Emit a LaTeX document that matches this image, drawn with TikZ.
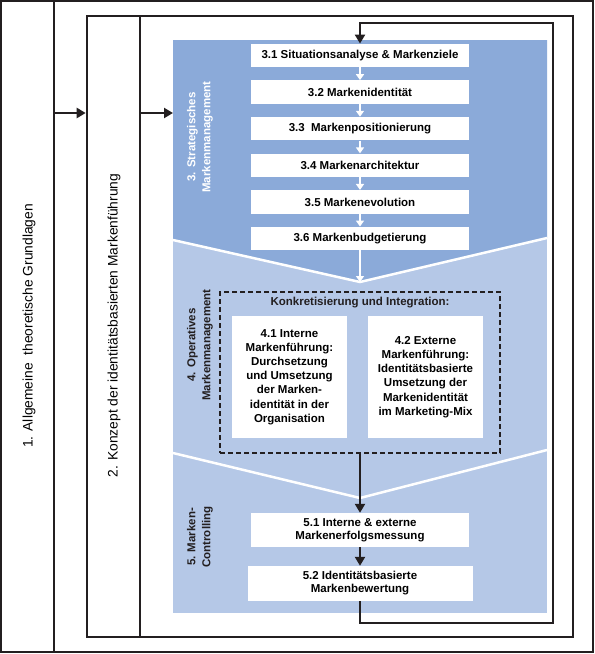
\documentclass[tikz,border=0pt]{standalone}
\usepackage{fontspec}
\setmainfont{Liberation Sans}
\usepackage{tikz}
\usetikzlibrary{arrows.meta,positioning}
\definecolor{bmdark}{RGB}{139,170,217}
\definecolor{bmlight}{RGB}{181,200,231}
\definecolor{bmline}{RGB}{35,31,32}
\tikzstyle{arrow} = [line width=2.8pt,-{Triangle[length=9pt,width=10pt]},color=bmline]

\begin{document}
\begin{tikzpicture}[x=1pt, y=-1pt,
    frame/.style={draw=bmline, line width=2.6pt, inner sep=0pt},
    phase/.style={fill=white, minimum width=218pt, minimum height=23.5pt, inner sep=0pt, align=center, font=\fontsize{11.5}{13}\selectfont\bfseries},
    detail/.style={fill=white, minimum width=115pt, minimum height=122pt, inner sep=0pt, align=center, font=\fontsize{11.5}{14.2}\selectfont\bfseries},
    section/.style={rotate=90, align=center, font=\fontsize{11.5}{15}\selectfont\bfseries},
    column/.style={rotate=90, font=\fontsize{13.8}{16}\selectfont},
    whitearrow/.style={white, line width=2pt, -{Triangle[length=6pt,width=8pt]}}]

\useasboundingbox (0,0) rectangle (595,654);

% Frames
\node[frame, minimum width=592pt, minimum height=651pt] (outer) at (297,326.5) {};
\node[frame, minimum width=53pt, minimum height=651pt] (col1) at (27.5,326.5) {};
\node[frame, minimum width=486pt, minimum height=621pt] (frame2) at (330,326.5) {};
\node[frame, minimum width=53pt, minimum height=621pt] (col2) at (113.5,326.5) {};

\node[column] (lab1) at (29,326) {1. Allgemeine\ \ theoretische Grundlagen};
\node[column] (lab2) at (114,325.5) {2. Konzept der identitätsbasierten Markenführung};

% Phases background
\fill[bmlight] (173,40) rectangle (547,613);
\fill[bmdark] (173,40) -- (547,40) -- (547,238) -- (360,282) -- (173,240) -- cycle;
\draw[white, line width=2.5pt] (173,240) -- (360,282) -- (547,238);
\draw[white, line width=2.5pt] (173,453) -- (360,498) -- (547,450);

\coordinate (arrY) at (0,113);
\coordinate (blueW) at (173,113);
\coordinate (vtip) at (360,282);

\node[section, text=white] (lab3) at (200,137) {3. Strategisches\\Markenmanagement};
\node[section, text=bmline] (lab4) at (200,345) {4. Operatives\\Markenmanagement};
\node[section, text=bmline] (lab5) at (200,537) {5. Marken-\\Controlling};

% Strategic steps
\node[phase] (s1) at (360,55.5) {3.1 Situationsanalyse \& Markenziele};
\node[phase] (s2) at (360,92.1) {3.2 Markenidentität};
\node[phase] (s3) at (360,128.7) {3.3\ \ Markenpositionierung};
\node[phase] (s4) at (360,165.3) {3.4 Markenarchitektur};
\node[phase] (s5) at (360,201.9) {3.5 Markenevolution};
\node[phase] (s6) at (360,238.5) {3.6 Markenbudgetierung};

\draw[whitearrow] (s1) -- (s2);
\draw[whitearrow] (s2) -- (s3);
\draw[whitearrow] (s3) -- (s4);
\draw[whitearrow] (s4) -- (s5);
\draw[whitearrow] (s5) -- (s6);
\draw[whitearrow] (s6) -- (vtip);

% Operative
\node[draw=bmline, dashed, dash pattern=on 5pt off 3pt, line width=1.8pt, minimum width=280pt, minimum height=161pt] (konkret) at (360,372.5) {};
\node[font=\fontsize{11.5}{13}\selectfont\bfseries, text=bmline] (ktitle) at (360,303) {Konkretisierung und Integration:};
\node[detail] (intern) at (289.5,377) {4.1 Interne\\Markenführung:\\Durchsetzung\\und Umsetzung\\der Marken-\\identität in der\\Organisation};
\node[detail] (extern) at (425.5,377) {4.2 Externe\\Markenführung:\\Identitätsbasierte\\Umsetzung der\\Markenidentität\\im Marketing-Mix};

% Controlling
\node[phase, minimum height=34pt] (c1) at (360,530) {5.1 Interne \& externe\\Markenerfolgsmessung};
\node[phase, minimum width=225pt, minimum height=35pt] (c2) at (360,583.5) {5.2 Identitätsbasierte\\Markenbewertung};

% Connections
\draw[arrow] (col1.east |- arrY) -- (frame2.west |- arrY);
\draw[arrow] (col2.east |- arrY) -- (blueW);
\draw[arrow] (konkret) -- (c1);
\draw[arrow] (c1) -- (c2);

% Feedback loop
\coordinate (fbB) at (0,623);
\coordinate (fbR) at (553,23);
\draw[arrow] (c2.south) -- (c2.south |- fbB) -- (fbR |- fbB) -- (fbR) -- (s1.north |- fbR) -- (s1.north);
\end{tikzpicture}
\end{document}
